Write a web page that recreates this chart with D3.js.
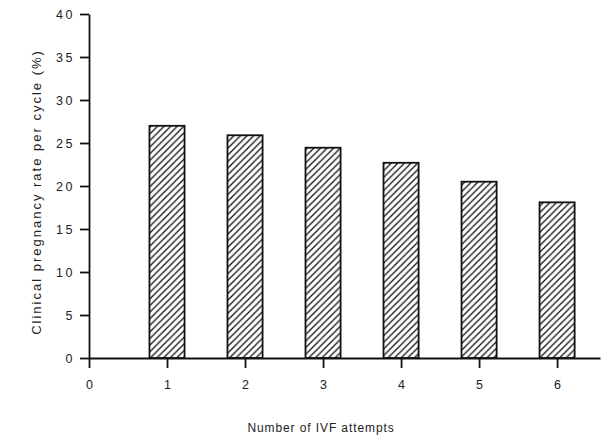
<!DOCTYPE html>
<html>
<head>
<meta charset="utf-8">
<script src="https://cdn.jsdelivr.net/npm/d3@7"></script>
<style>
  html, body { margin: 0; padding: 0; background: #fff; }
  text { font-family: "Liberation Sans", Arial, sans-serif; fill: #222; }
</style>
</head>
<body>
<div id="chart"></div>
<script>
// data
const attempts = [1, 2, 3, 4, 5, 6];
const pregnancyRate = [27.0, 25.9, 24.45, 22.7, 20.5, 18.1];
const xTicks = [0, 1, 2, 3, 4, 5, 6];
const yTicks = [0, 5, 10, 15, 20, 25, 30, 35, 40];

const width = 603, height = 441;
const plotLeft = 89, plotRight = 600, plotTop = 14, plotBottom = 358;

const svg = d3.select("#chart").append("svg")
  .attr("width", width)
  .attr("height", height);

// diagonal hatch for the bars
const pat = svg.append("defs").append("pattern")
  .attr("id", "hatch")
  .attr("patternUnits", "userSpaceOnUse")
  .attr("width", 6.6)
  .attr("height", 6.6);
pat.append("rect").attr("width", 6.6).attr("height", 6.6).attr("fill", "#fff");
pat.append("path")
  .attr("d", "M0,6.6 L6.6,0 M-1.65,1.65 L1.65,-1.65 M4.95,8.25 L8.25,4.95")
  .attr("stroke", "#111")
  .attr("stroke-width", 1.3);

const x = d3.scaleLinear().domain([0, 6.55]).range([plotLeft, plotRight]);
const y = d3.scaleLinear().domain([0, 40]).range([plotBottom, plotTop]);
const barW = 0.45;

svg.selectAll("rect.bar")
  .data(attempts)
  .enter()
  .append("rect")
  .attr("class", "bar")
  .attr("x", d => x(d - barW / 2))
  .attr("width", x(barW) - x(0))
  .attr("y", (d, i) => y(pregnancyRate[i]))
  .attr("height", (d, i) => y(0) - y(pregnancyRate[i]))
  .attr("fill", "url(#hatch)")
  .attr("stroke", "#111")
  .attr("stroke-width", 1.8);

// axes
const yAxis = svg.append("g")
  .attr("transform", "translate(" + plotLeft + ",0)")
  .call(d3.axisLeft(y).tickValues(yTicks).tickFormat(d3.format("d"))
    .tickSize(9).tickPadding(5).tickSizeOuter(0));

const xAxis = svg.append("g")
  .attr("transform", "translate(0," + plotBottom + ")")
  .call(d3.axisBottom(x).tickValues(xTicks).tickFormat(d3.format("d"))
    .tickSize(10).tickPadding(12).tickSizeOuter(0));

[yAxis, xAxis].forEach(g => {
  g.select(".domain").attr("stroke", "#111").attr("stroke-width", 1.8);
  g.selectAll(".tick line").attr("stroke", "#111").attr("stroke-width", 1.8);
  g.selectAll(".tick text")
    .attr("fill", "#222")
    .style("font-family", '"Liberation Sans", Arial, sans-serif')
    .style("font-size", "12.5px");
});
yAxis.selectAll(".tick text").style("letter-spacing", "2.5px");

// axis titles
svg.append("text")
  .attr("x", 321)
  .attr("y", 432)
  .attr("text-anchor", "middle")
  .style("font-size", "12px")
  .style("letter-spacing", "0.9px")
  .text("Number of IVF attempts");

svg.append("text")
  .attr("transform", "translate(41,192) rotate(-90)")
  .attr("text-anchor", "middle")
  .style("font-size", "13px")
  .style("letter-spacing", "2px")
  .text("Clinical pregnancy rate per cycle (%)");
</script>
</body>
</html>
